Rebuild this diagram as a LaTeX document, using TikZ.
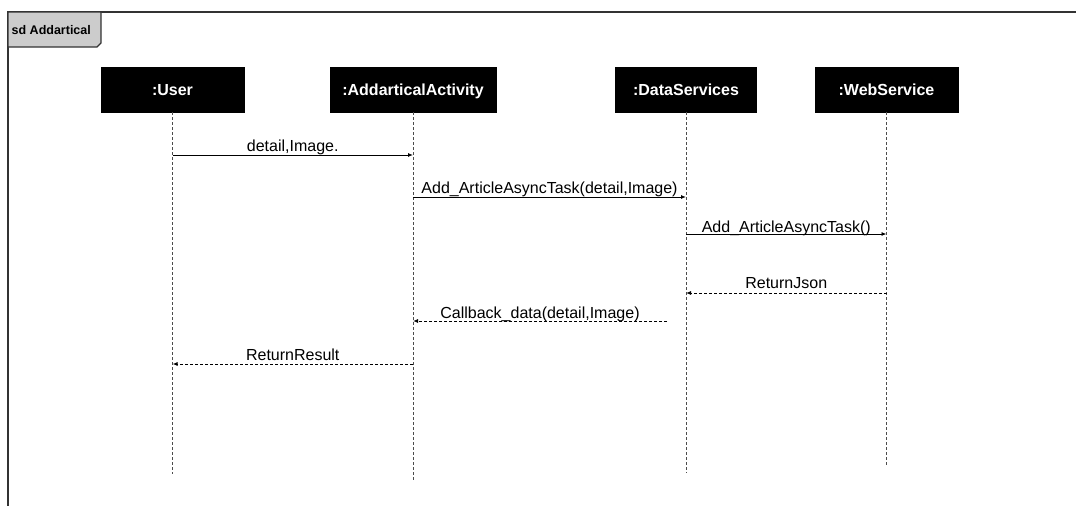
\documentclass[tikz,border=0pt]{standalone}
\usepackage{fontspec}
\setmainfont{Liberation Sans}
\usetikzlibrary{arrows.meta}
\begin{document}
\begin{tikzpicture}[x=1pt,y=-1pt,
  obj/.style={draw=black,fill=black,text=white,font=\fontsize{16}{19}\selectfont\bfseries,
    minimum height=45pt,inner sep=0pt,text height=11.5pt,text depth=0pt},
  lifeline/.style={draw=black!70,line width=0.9pt,dash pattern=on 3pt off 2pt},
  msg/.style={draw=black,line width=0.9pt,-{Latex[length=5pt,width=4pt]}},
  ret/.style={draw=black,line width=0.9pt,dash pattern=on 3pt off 2pt,-{Latex[length=5pt,width=4pt]}},
  lbl/.style={font=\fontsize{16}{19}\selectfont,inner sep=0pt,anchor=base}]
\useasboundingbox (0,0) rectangle (1076,506);
% frame
\draw[black!80,line width=1.2pt] (1076,12) -- (8,12) -- (8,506);
\draw[black!80,line width=1.2pt,fill=black!20] (8,12) -- (101,12) -- (101,43) -- (97,47) -- (8,47) -- cycle;
\node[font=\fontsize{12.5}{15}\selectfont\bfseries,anchor=west,inner sep=0pt] (title) at (11.5,30) {sd Addartical};
% objects
\node[obj,minimum width=143pt] (user) at (172.5,89.5) {:User};
\node[obj,minimum width=166pt] (act) at (413,89.5) {:AddarticalActivity};
\node[obj,minimum width=141pt] (ds) at (686,89.5) {:DataServices};
\node[obj,minimum width=143pt] (ws) at (886.5,89.5) {:WebService};
% lifelines
\coordinate (userEnd) at (172.5,474);
\coordinate (actEnd) at (413,480);
\coordinate (dsEnd) at (686,473);
\coordinate (wsEnd) at (886.5,467);
\draw[lifeline] (user.south) -- (userEnd);
\draw[lifeline] (act.south) -- (actEnd);
\draw[lifeline] (ds.south) -- (dsEnd);
\draw[lifeline] (ws.south) -- (wsEnd);
% message points
\coordinate (u1) at (user.south |- 0,155);
\coordinate (a1) at (act.south |- 0,155);
\coordinate (a2) at (act.south |- 0,197);
\coordinate (d2) at (ds.south |- 0,197);
\coordinate (d3) at (ds.south |- 0,234);
\coordinate (w3) at (ws.south |- 0,234);
\coordinate (w4) at (ws.south |- 0,293);
\coordinate (d4) at (ds.south |- 0,293);
\coordinate (c5) at (667,321);
\coordinate (a5) at (act.south |- 0,321);
\coordinate (a6) at (act.south |- 0,364);
\coordinate (u6) at (user.south |- 0,364);
% messages
\draw[msg] (u1) -- (a1) node[lbl,midway,yshift=4pt] (m1) {detail,Image.};
\draw[msg] (a2) -- (d2) node[lbl,midway,yshift=4pt] (m2) {Add\_ArticleAsyncTask(detail,Image)};
\draw[msg] (d3) -- (w3) node[lbl,midway,yshift=2pt] (m3) {Add\_ArticleAsyncTask()};
\draw[ret] (w4) -- (d4) node[lbl,midway,yshift=5pt] (m4) {ReturnJson};
\draw[ret] (c5) -- (a5) node[lbl,midway,yshift=3pt] (m5) {Callback\_data(detail,Image)};
\draw[ret] (a6) -- (u6) node[lbl,midway,yshift=4pt] (m6) {ReturnResult};
\end{tikzpicture}
\end{document}
